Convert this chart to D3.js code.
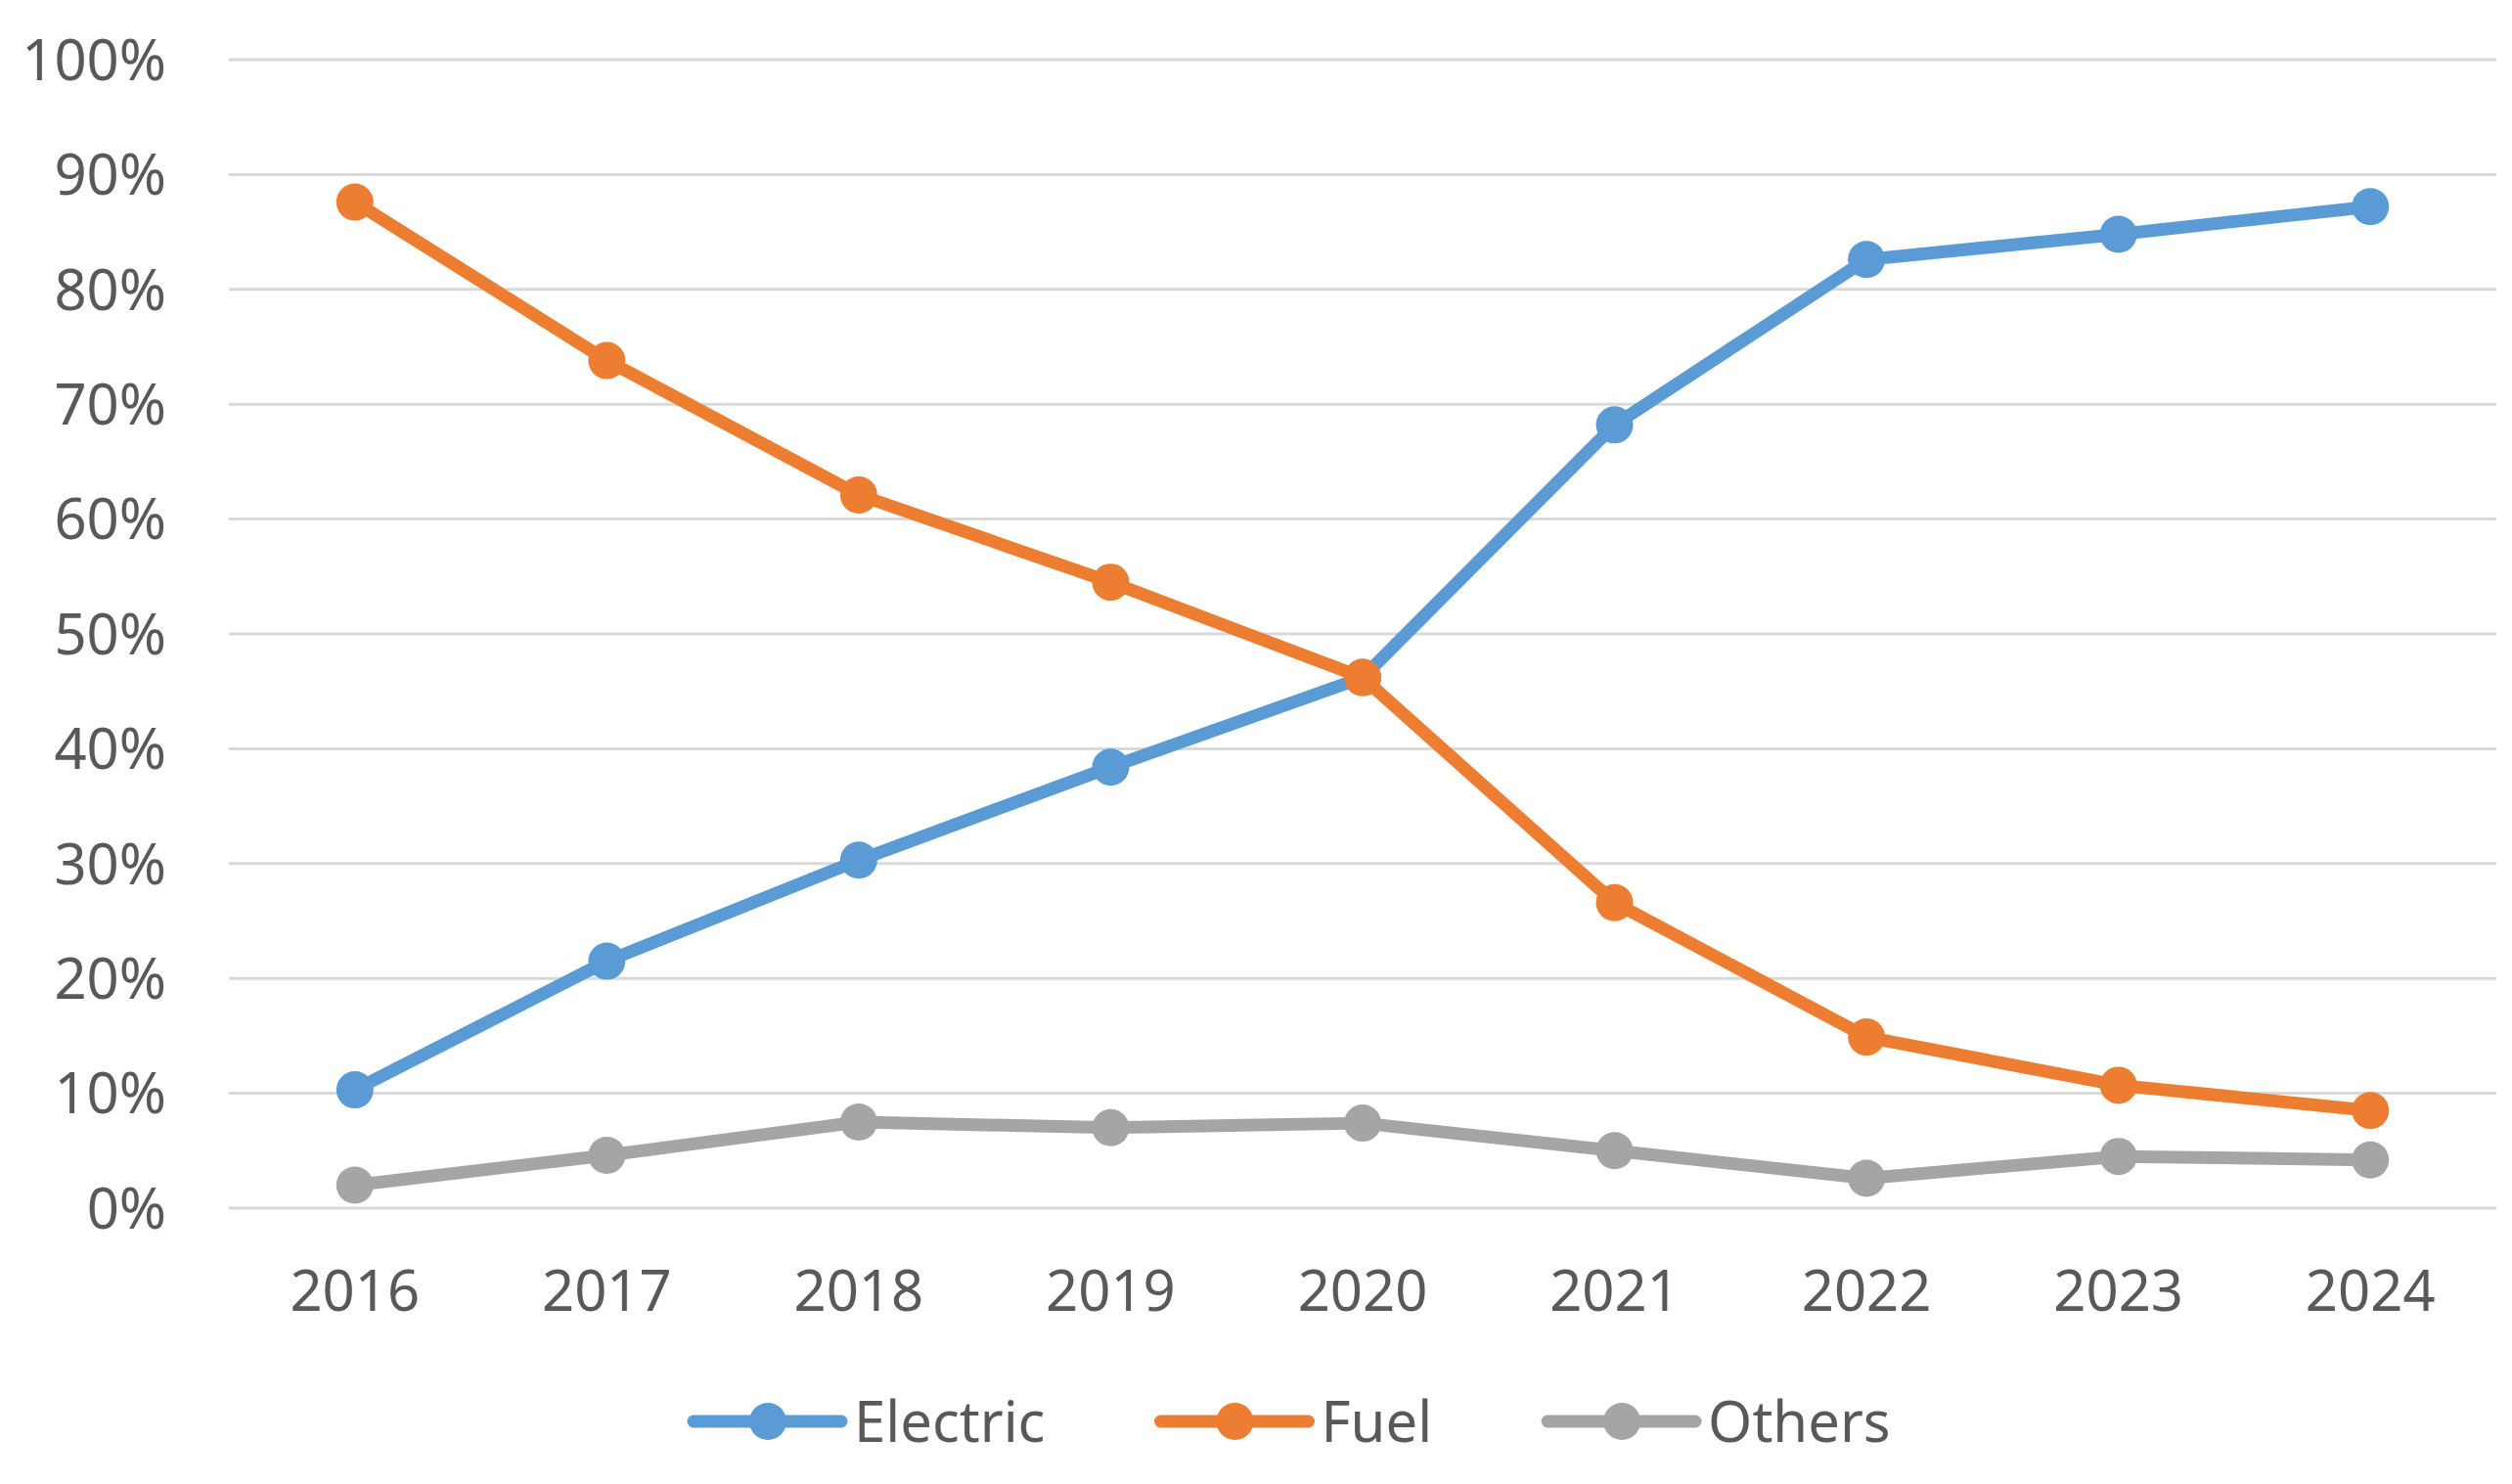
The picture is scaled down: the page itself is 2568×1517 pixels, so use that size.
<!DOCTYPE html>
<html>
<head>
  <script src="https://d3js.org/d3.v7.min.js"></script>
  <style>
    body { margin: 0; background: #fff; }
    svg { display: block; font-family: "Noto Sans", "Open Sans", sans-serif; }
    .tick-label { fill: #595959; font-size: 58px; }
    .legend-label { fill: #595959; font-size: 58px; }
  </style>
</head>
<body>
  <svg id="chart"></svg>
  <script>
    // data
    const years = ["2016", "2017", "2018", "2019", "2020", "2021", "2022", "2023", "2024"];
    const electric = [10.3, 21.5, 30.3, 38.4, 46.2, 68.2, 82.6, 84.8, 87.2];
    const fuel = [87.6, 73.8, 62.1, 54.5, 46.2, 26.6, 14.9, 10.7, 8.5];
    const others = [2.0, 4.6, 7.5, 7.0, 7.4, 5.0, 2.6, 4.5, 4.2];
    const seriesNames = ["Electric", "Fuel", "Others"];
    const seriesColors = ["#5B9BD5", "#ED7D31", "#A5A5A5"];
    const yTicks = [0, 10, 20, 30, 40, 50, 60, 70, 80, 90, 100];

    const width = 2568;
    const height = 1517;
    const margin = { top: 61, right: 16, bottom: 282, left: 234 };

    const svg = d3.select("#chart")
      .attr("width", width)
      .attr("height", height);

    const x = d3.scaleBand()
      .domain(years)
      .range([margin.left, width - margin.right]);

    const y = d3.scaleLinear()
      .domain([0, 100])
      .range([height - margin.bottom, margin.top]);

    // gridlines
    svg.append("g")
      .selectAll("line")
      .data(yTicks)
      .join("line")
      .attr("x1", margin.left)
      .attr("x2", width - margin.right)
      .attr("y1", d => y(d))
      .attr("y2", d => y(d))
      .attr("stroke", "#D9D9D9")
      .attr("stroke-width", 3);

    // y labels
    svg.append("g")
      .selectAll("text")
      .data(yTicks)
      .join("text")
      .attr("class", "tick-label")
      .attr("x", margin.left - 64)
      .attr("y", d => y(d))
      .attr("dy", "0.36em")
      .attr("text-anchor", "end")
      .text(d => d + "%");

    // x labels
    svg.append("g")
      .selectAll("text")
      .data(years)
      .join("text")
      .attr("class", "tick-label")
      .attr("x", d => x(d) + x.bandwidth() / 2)
      .attr("y", height - margin.bottom + 84)
      .attr("dy", "0.36em")
      .attr("text-anchor", "middle")
      .text(d => d);

    const series = [electric, fuel, others].map((vals, i) => ({
      name: seriesNames[i],
      color: seriesColors[i],
      values: vals.map((v, j) => ({ year: years[j], value: v }))
    }));

    const line = d3.line()
      .x(d => x(d.year) + x.bandwidth() / 2)
      .y(d => y(d.value));

    const g = svg.append("g");
    series.forEach(s => {
      g.append("path")
        .datum(s.values)
        .attr("d", line)
        .attr("fill", "none")
        .attr("stroke", s.color)
        .attr("stroke-width", 13)
        .attr("stroke-linejoin", "round")
        .attr("stroke-linecap", "round");
      g.selectAll(null)
        .data(s.values)
        .join("circle")
        .attr("cx", d => x(d.year) + x.bandwidth() / 2)
        .attr("cy", d => y(d.value))
        .attr("r", 19)
        .attr("fill", s.color);
    });

    // legend
    const legendY = 1453;
    const legend = svg.append("g");
    let lx = 709;
    series.forEach(s => {
      const item = legend.append("g").attr("transform", `translate(${lx},${legendY})`);
      item.append("line")
        .attr("x1", 0).attr("x2", 151)
        .attr("stroke", s.color)
        .attr("stroke-width", 13)
        .attr("stroke-linecap", "round");
      item.append("circle")
        .attr("cx", 76).attr("r", 19)
        .attr("fill", s.color);
      const t = item.append("text")
        .attr("class", "legend-label")
        .attr("x", 164)
        .attr("dy", "0.36em")
        .text(s.name);
      lx += 164 + t.node().getComputedTextLength() + 118;
    });
  </script>
</body>
</html>
